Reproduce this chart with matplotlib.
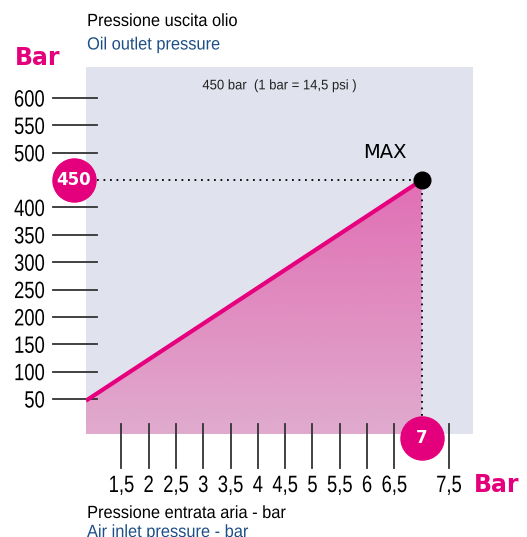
import numpy as np
import matplotlib
matplotlib.use("Agg")
import matplotlib.pyplot as plt
import matplotlib.transforms as mtransforms
from matplotlib.colors import LinearSegmentedColormap
from matplotlib.patches import Polygon
from matplotlib.patheffects import AbstractPathEffect

plt.rcParams['font.family'] = ['Liberation Sans', 'DejaVu Sans']

# pump curve: air inlet pressure (bar) -> oil outlet pressure (bar)
air_in = [0.853, 7.0]
oil_out = [47, 450]
max_air = 7
max_oil = 450

y_ticks = [50, 100, 150, 200, 250, 300, 350, 400, 500, 550, 600]
x_ticks = [1.5, 2, 2.5, 3, 3.5, 4, 4.5, 5, 5.5, 6, 6.5, 7.5]
x_labels = ['1,5', '2', '2,5', '3', '3,5', '4', '4,5', '5', '5,5', '6', '6,5', '7,5']

MAGENTA = '#e4007c'
BLUE = '#1d4f86'
W, H = 527, 537


class Squeeze(AbstractPathEffect):
    """Condense text horizontally around a point of its extent."""

    def __init__(self, sx=0.8, anchor=0.0):
        super().__init__()
        self.sx = sx
        self.anchor = anchor

    def draw_path(self, renderer, gc, tpath, affine, rgbFace=None):
        ext = tpath.get_extents(affine)
        ox = ext.x0 + self.anchor * ext.width
        aff = affine + mtransforms.Affine2D().translate(-ox, 0).scale(self.sx, 1).translate(ox, 0)
        renderer.draw_path(gc, tpath, aff, rgbFace)


fig = plt.figure(figsize=(W / 100, H / 100), dpi=100)
ax = fig.add_axes([86 / W, 1 - 434 / H, (473 - 86) / W, (434 - 67) / H])
ax.set_facecolor('#e0e2ee')
for s in ax.spines.values():
    s.set_visible(False)
ax.set_xticks([])
ax.set_yticks([])

xlo, xhi = 0.853, 7.94
ylo, yhi = -13.9, 656.7


def px_off(dx, dy):
    return mtransforms.ScaledTranslation(dx / 100, -dy / 100, fig.dpi_scale_trans)


# gradient fill under the curve
cmap = LinearSegmentedColormap.from_list('pinkfade', ['#e0abce', '#e06fb4'])
grad = np.linspace(0, 1, 256).reshape(-1, 1)
im = ax.imshow(grad, extent=[xlo, max_air, ylo, max_oil], origin='lower',
               cmap=cmap, aspect='auto', zorder=1)
poly = Polygon([(xlo, ylo), (air_in[0], oil_out[0]), (air_in[1], oil_out[1]),
                (air_in[1], ylo)], closed=True, facecolor='none',
               edgecolor='none', transform=ax.transData)
ax.add_patch(poly)
im.set_clip_path(poly)

# curve
ax.plot(air_in, oil_out, color='#e6007e', lw=3, solid_capstyle='butt', zorder=3)

# dotted guides to the max point
ax.plot([xlo + 0.2, max_air], [max_oil, max_oil], color='black', lw=1.3,
        ls=(0, (1, 2.6)), zorder=2, clip_on=False)
ax.plot([max_air, max_air], [max_oil, ylo], color='black', lw=1.3,
        ls=(0, (1, 2.6)), zorder=2)
ax.plot([max_air], [max_oil], 'o', color='black', ms=12, zorder=4)
ax.text(6.33, 501, 'MAX', fontsize=14, family='DejaVu Sans', ha='center',
        va='center', color='black')

ax.set_xlim(xlo, xhi)
ax.set_ylim(ylo, yhi)

# y axis ticks and labels
ytr = ax.get_yaxis_transform()
for v in y_ticks:
    ax.plot([-0.085, 0.028], [v, v], color='#333333', lw=1.3,
            transform=ytr, clip_on=False, zorder=2)
    ax.text(-0.106, v, str(v), fontsize=17, ha='right', va='baseline',
            transform=ytr + px_off(0, 8.5),
            path_effects=[Squeeze(0.78, 1.0)])

# x axis ticks and labels
xtr = ax.get_xaxis_transform()
for v, lab in zip(x_ticks, x_labels):
    ax.plot([v, v], [0.027, -0.093], color='#333333', lw=1.3,
            transform=xtr, clip_on=False, zorder=2)
    ax.text(v, 0, lab, fontsize=17, ha='center', va='baseline',
            transform=xtr + px_off(0, 58),
            path_effects=[Squeeze(0.78, 0.5)])

# value badges
ax.plot([-0.031], [max_oil], 'o', color=MAGENTA, ms=31, transform=ytr,
        clip_on=False, zorder=6)
ax.text(-0.031, max_oil, '450', fontsize=12, fontweight='bold',
        family='DejaVu Sans', color='white', ha='center', va='center',
        transform=ytr, zorder=7)
ax.plot([max_air], [-0.011], 'o', color=MAGENTA, ms=31, transform=xtr,
        clip_on=False, zorder=6)
ax.text(max_air, -0.011, '7', fontsize=12, fontweight='bold',
        family='DejaVu Sans', color='white', ha='center', va='center',
        transform=xtr, zorder=7)

ax.text(0.5, 0.95, '450 bar  (1 bar = 14,5 psi )', fontsize=10,
        ha='center', va='center', transform=ax.transAxes,
        color='#222222', path_effects=[Squeeze(0.94, 0.5)])


def ftext(x, y, s, sx=None, **kw):
    if sx is not None:
        kw['path_effects'] = [Squeeze(sx, 0.0)]
    fig.text(x / W, 1 - y / H, s, va='baseline', **kw)


ftext(87, 26, 'Pressione uscita olio', sx=0.93, fontsize=12.7, color='black')
ftext(87, 49.5, 'Oil outlet pressure', sx=0.93, fontsize=12.7, color=BLUE)
ftext(15, 65, 'Bar', fontsize=17, fontweight='bold', family='DejaVu Sans',
      color=MAGENTA)
ftext(87, 518, 'Pressione entrata aria - bar', sx=0.93, fontsize=12.7,
      color='black')
ftext(87, 537, 'Air inlet pressure - bar', sx=0.93, fontsize=12.7, color=BLUE)
ftext(474, 492, 'Bar', fontsize=17, fontweight='bold', family='DejaVu Sans',
      color=MAGENTA)

fig.savefig('out.png', dpi=100)
